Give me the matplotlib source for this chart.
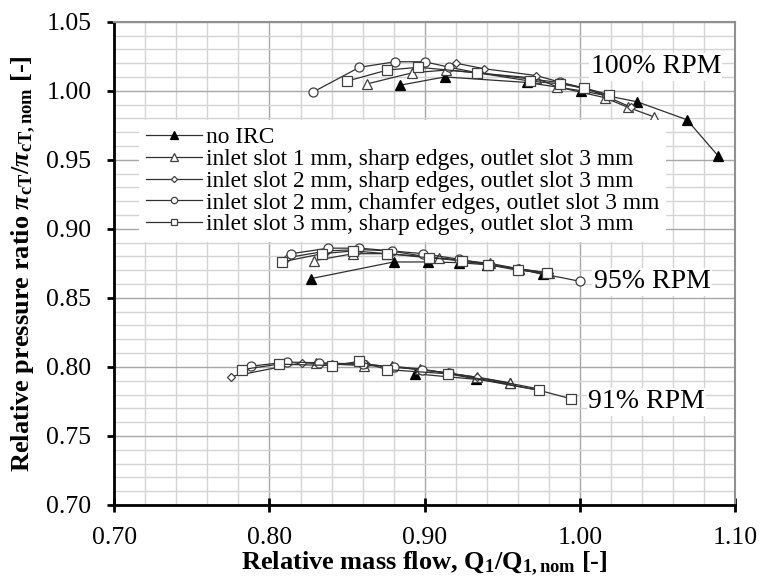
import matplotlib
matplotlib.use("Agg")
import matplotlib.pyplot as plt
from matplotlib.ticker import MultipleLocator, FormatStrFormatter

plt.rcParams['font.family'] = ['Liberation Serif', 'DejaVu Serif']
plt.rcParams['mathtext.fontset'] = 'custom'
plt.rcParams['mathtext.rm'] = 'Liberation Serif:bold'
plt.rcParams['mathtext.bf'] = 'Liberation Serif:bold'
plt.rcParams['mathtext.it'] = 'Liberation Serif:bold:italic'

# ---------------- data ----------------
series_labels = [
    "no IRC",
    "inlet slot 1 mm, sharp edges, outlet slot 3 mm",
    "inlet slot 2 mm, sharp edges, outlet slot 3 mm",
    "inlet slot 2 mm, chamfer edges, outlet slot 3 mm",
    "inlet slot 3 mm, sharp edges, outlet slot 3 mm",
]
speed_labels = ["100% RPM", "95% RPM", "91% RPM"]

# 100% RPM
noirc_100_x = [0.884, 0.913, 0.966, 1.001, 1.037, 1.069, 1.089]
noirc_100_y = [1.004, 1.010, 1.006, 1.000, 0.992, 0.979, 0.953]
s1_100_x = [0.863, 0.892, 0.914, 0.972, 0.985, 1.016, 1.031, 1.048]
s1_100_y = [1.005, 1.013, 1.015, 1.009, 1.003, 0.995, 0.988, 0.981]
s2_100_x = [0.920, 0.938, 0.972, 0.988, 1.003, 1.017, 1.033]
s2_100_y = [1.020, 1.016, 1.011, 1.006, 1.002, 0.996, 0.988]
ch_100_x = [0.828, 0.858, 0.881, 0.900, 0.916, 0.934, 0.987, 1.018]
ch_100_y = [0.999, 1.017, 1.021, 1.021, 1.017, 1.013, 1.006, 0.997]
s3_100_x = [0.850, 0.876, 0.896, 0.934, 0.968, 0.987, 1.003, 1.019]
s3_100_y = [1.007, 1.015, 1.017, 1.013, 1.007, 1.005, 1.002, 0.997]

# 95% RPM
noirc_95_x = [0.827, 0.880, 0.902, 0.922, 0.940, 0.961, 0.976]
noirc_95_y = [0.864, 0.876, 0.876, 0.8755, 0.874, 0.871, 0.867]
s1_95_x = [0.829, 0.854, 0.876, 0.909, 0.942, 0.961, 0.980]
s1_95_y = [0.877, 0.882, 0.882, 0.879, 0.875, 0.871, 0.868]
s2_95_x = [0.811, 0.837, 0.858, 0.878, 0.900, 0.922, 0.942, 0.961, 0.980]
s2_95_y = [0.879, 0.884, 0.885, 0.884, 0.880, 0.877, 0.874, 0.871, 0.868]
ch_95_x = [0.814, 0.838, 0.858, 0.879, 0.899, 0.922, 0.942, 0.960, 1.000]
ch_95_y = [0.882, 0.886, 0.886, 0.884, 0.882, 0.878, 0.874, 0.871, 0.862]
s3_95_x = [0.808, 0.834, 0.854, 0.876, 0.903, 0.924, 0.941, 0.960, 0.979]
s3_95_y = [0.876, 0.882, 0.884, 0.882, 0.879, 0.877, 0.874, 0.870, 0.868]

# 91% RPM
noirc_91_x = [0.894, 0.933, 0.955]
noirc_91_y = [0.795, 0.791, 0.788]
s1_91_x = [0.830, 0.861, 0.879, 0.897, 0.915, 0.934, 0.955]
s1_91_y = [0.8025, 0.801, 0.8005, 0.7985, 0.7955, 0.7925, 0.7885]
s2_91_x = [0.775, 0.821, 0.840, 0.862, 0.879, 0.897, 0.915, 0.934, 0.974]
s2_91_y = [0.793, 0.803, 0.802, 0.802, 0.800, 0.798, 0.7955, 0.7925, 0.784]
ch_91_x = [0.788, 0.811, 0.832, 0.860, 0.880, 0.898, 0.916, 0.974]
ch_91_y = [0.8005, 0.8035, 0.803, 0.802, 0.800, 0.798, 0.7955, 0.783]
s3_91_x = [0.782, 0.806, 0.840, 0.858, 0.876, 0.915, 0.974, 0.994]
s3_91_y = [0.798, 0.802, 0.801, 0.804, 0.798, 0.795, 0.783, 0.777]

# ---------------- styles ----------------
styles = [
    dict(marker='^', ms=7.5, mfc='black', mec='black'),
    dict(marker='^', ms=7.5, mfc='white', mec='#404040'),
    dict(marker='D', ms=4.5, mfc='white', mec='#404040'),
    dict(marker='o', ms=6.5, mfc='white', mec='#404040'),
    dict(marker='s', ms=6.5, mfc='white', mec='#404040'),
]
groups = [
    [(noirc_100_x, noirc_100_y), (noirc_95_x, noirc_95_y), (noirc_91_x, noirc_91_y)],
    [(s1_100_x, s1_100_y), (s1_95_x, s1_95_y), (s1_91_x, s1_91_y)],
    [(s2_100_x, s2_100_y), (s2_95_x, s2_95_y), (s2_91_x, s2_91_y)],
    [(ch_100_x, ch_100_y), (ch_95_x, ch_95_y), (ch_91_x, ch_91_y)],
    [(s3_100_x, s3_100_y), (s3_95_x, s3_95_y), (s3_91_x, s3_91_y)],
]

fig = plt.figure(figsize=(7.63, 5.76), dpi=100)
ax = fig.add_axes([0.1498, 0.1233, 0.8135, 0.839])

handles = []
for lab, st, grp in zip(series_labels, styles, groups):
    for k, (xs, ys) in enumerate(grp):
        h, = ax.plot(xs, ys, color='#303030', lw=0.9, mew=0.9,
                     label=lab if k == 0 else None, zorder=3, **st)
        if k == 0:
            handles.append(h)

ax.set_xlim(0.70, 1.10)
ax.set_ylim(0.70, 1.05)
ax.xaxis.set_major_locator(MultipleLocator(0.10))
ax.xaxis.set_minor_locator(MultipleLocator(0.02))
ax.yaxis.set_major_locator(MultipleLocator(0.05))
ax.yaxis.set_minor_locator(MultipleLocator(0.01))
ax.xaxis.set_major_formatter(FormatStrFormatter('%.2f'))
ax.yaxis.set_major_formatter(FormatStrFormatter('%.2f'))

ax.grid(which='major', color='#a8a8a8', lw=1.0, zorder=0)
ax.grid(which='minor', color='#d4d4d4', lw=1.0, zorder=0)
ax.set_axisbelow(True)

ax.tick_params(axis='x', which='major', direction='inout', length=10, width=2,
               labelsize=18.5, pad=11, colors='black')
ax.tick_params(axis='y', which='major', direction='out', length=5, width=2,
               labelsize=18.5, pad=11.5)
ax.tick_params(which='minor', length=0)

for s in ['left', 'bottom']:
    ax.spines[s].set_linewidth(2.0)
    ax.spines[s].set_color('black')
for s in ['top', 'right']:
    ax.spines[s].set_linewidth(1.5)
    ax.spines[s].set_color('#909090')

ax.set_xlabel(r'Relative mass flow, $\mathbf{Q_1/Q_{1,nom}}$ [-]',
              fontsize=19, fontweight='bold', labelpad=0)
ax.set_ylabel(r'Relative pressure ratio $\pi_{\mathbf{cT}}/\pi_{\mathbf{cT,nom}}$ [-]',
              fontsize=19, fontweight='bold', labelpad=6)

ann_x = [1.049, 1.0465, 1.043]
ann_y = [1.0174, 0.8617, 0.7748]
for t, xx, yy in zip(speed_labels, ann_x, ann_y):
    ax.text(xx, yy, t, fontsize=20, ha='center', va='center', zorder=4,
            bbox=dict(facecolor='white', edgecolor='none', pad=1.0))

leg = ax.legend(handles=handles, loc='upper left', bbox_to_anchor=(0.04, 0.797),
                fontsize=16.8, frameon=True, fancybox=False, framealpha=1.0,
                edgecolor='none', facecolor='white', labelspacing=0.02,
                handlelength=2.4, handletextpad=0.15, borderpad=0.3,
                borderaxespad=0.0, markerscale=0.7)
leg.set_zorder(5)

fig.savefig('out.png', dpi=100)
